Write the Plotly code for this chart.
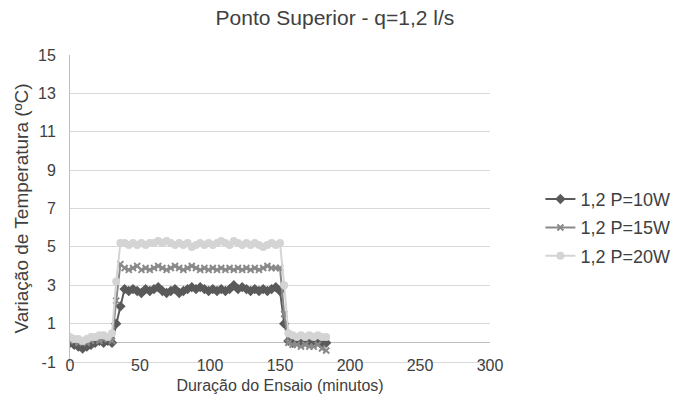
import plotly.graph_objects as go

tempo = [0, 3, 6, 9, 12, 15, 18, 21, 24, 27, 30, 33, 36, 39, 42, 45, 48, 51, 54, 57,
         60, 63, 66, 69, 72, 75, 78, 81, 84, 87, 90, 93, 96, 99, 102, 105, 108, 111, 114, 117,
         120, 123, 126, 129, 132, 135, 138, 141, 144, 147, 150, 153, 156, 159, 162, 165, 168, 171, 174, 177,
         180, 183]

p10 = [0.0, -0.1, -0.2, -0.3, -0.2, -0.1, 0.0, 0.1, 0.0, 0.1, 0.0, 1.0, 1.9, 2.8, 2.7, 2.8, 2.7, 2.6, 2.8, 2.7,
       2.8, 2.9, 2.7, 2.6, 2.7, 2.8, 2.6, 2.7, 2.8, 2.9, 2.8, 2.9, 2.8, 2.7, 2.8, 2.7, 2.8, 2.7, 2.8, 3.0,
       2.8, 2.9, 2.8, 2.7, 2.8, 2.7, 2.8, 2.7, 2.8, 2.9, 2.7, 1.0, 0.1, 0.0, 0.1, 0.0, 0.1, 0.0, 0.0, 0.1,
       0.0, 0.0]

p15 = [0.1, 0.1, 0.0, 0.1, 0.0, 0.1, 0.2, 0.1, 0.2, 0.2, 0.1, 2.2, 4.1, 3.9, 3.8, 3.9, 4.0, 3.8, 3.9, 3.8,
       3.9, 4.0, 3.9, 3.8, 3.9, 4.0, 3.9, 3.8, 3.9, 4.0, 3.9, 3.8, 3.9, 3.8, 3.9, 3.8, 3.9, 3.8, 3.9, 3.8,
       3.9, 3.8, 3.9, 3.8, 3.9, 3.8, 3.9, 4.0, 3.9, 3.9, 3.9, 1.5, 0.0, -0.1, -0.1, -0.2, -0.1, -0.2, -0.2, -0.1,
       -0.3, -0.4]

p20 = [0.3, 0.2, 0.2, 0.1, 0.2, 0.3, 0.3, 0.4, 0.4, 0.3, 0.5, 3.2, 5.2, 5.2, 5.1, 5.2, 5.1, 5.2, 5.1, 5.2,
       5.2, 5.3, 5.2, 5.3, 5.2, 5.1, 5.2, 5.1, 5.2, 5.0, 5.1, 5.2, 5.1, 5.2, 5.1, 5.2, 5.3, 5.2, 5.1, 5.3,
       5.2, 5.1, 5.2, 5.1, 5.2, 5.1, 5.0, 5.1, 5.2, 5.1, 5.2, 3.0, 0.5, 0.4, 0.3, 0.4, 0.3, 0.4, 0.3, 0.4,
       0.3, 0.3]

names = ["1,2 P=10W", "1,2 P=15W", "1,2 P=20W"]
y_ticks = [-1, 1, 3, 5, 7, 9, 11, 13, 15]
y_ticklabels = ["-1", "1", "3", "5", "7", "9", "11", "13", "15"]
x_ticks = [0, 50, 100, 150, 200, 250, 300]

colors = ["#5a5a5a", "#8a8a8a", "#d4d4d4"]
symbols = ["diamond", "x-thin-open", "circle"]
msizes = [8, 6, 8]

fig = go.Figure()
for i, (ys, nm) in enumerate([(p10, names[0]), (p15, names[1]), (p20, names[2])]):
    marker = dict(symbol=symbols[i], size=msizes[i], color=colors[i])
    if symbols[i] == "x-thin-open":
        marker["line"] = dict(color=colors[i], width=2)
    fig.add_trace(go.Scatter(
        x=tempo, y=ys, name=nm, mode="lines+markers",
        line=dict(color=colors[i], width=2),
        marker=marker, legendgroup=nm,
    ))

fig.update_layout(
    width=674, height=400,
    margin=dict(l=70, r=184, t=55, b=38, autoexpand=False),
    paper_bgcolor="white", plot_bgcolor="white",
    font=dict(family="Liberation Sans, Arial, sans-serif", size=16, color="#404040"),
    title=dict(text="Ponto Superior - q=1,2 l/s", x=0.497, xanchor="center", xref="container",
               y=0.955, yanchor="middle", yref="container", font=dict(size=21, color="#404040")),
    showlegend=True,
    legend=dict(x=1.12, xanchor="left", y=0.437, yanchor="middle",
                font=dict(size=18, color="#404040"), tracegroupgap=2,
                traceorder="grouped", bgcolor="rgba(0,0,0,0)"),
    xaxis=dict(range=[0, 300], tickvals=x_ticks, showgrid=False, zeroline=False,
               showline=True, linecolor="#d9d9d9", linewidth=1, mirror=False,
               ticks="", tickfont=dict(size=16), ticklabelstandoff=-11,
               title=dict(text="Duração do Ensaio (minutos)", standoff=6, font=dict(size=16))),
    yaxis=dict(range=[-1, 15], tickvals=y_ticks, ticktext=y_ticklabels, showgrid=True,
               gridcolor="#d9d9d9", gridwidth=1, zeroline=True, zerolinecolor="#bfbfbf",
               zerolinewidth=1, showline=True, linecolor="#bfbfbf", linewidth=1,
               ticks="", tickfont=dict(size=16), ticklabelstandoff=10,
               title=dict(text="Variação de Temperatura (ºC)", standoff=4, font=dict(size=19))),
)

fig.write_html("out.html")
